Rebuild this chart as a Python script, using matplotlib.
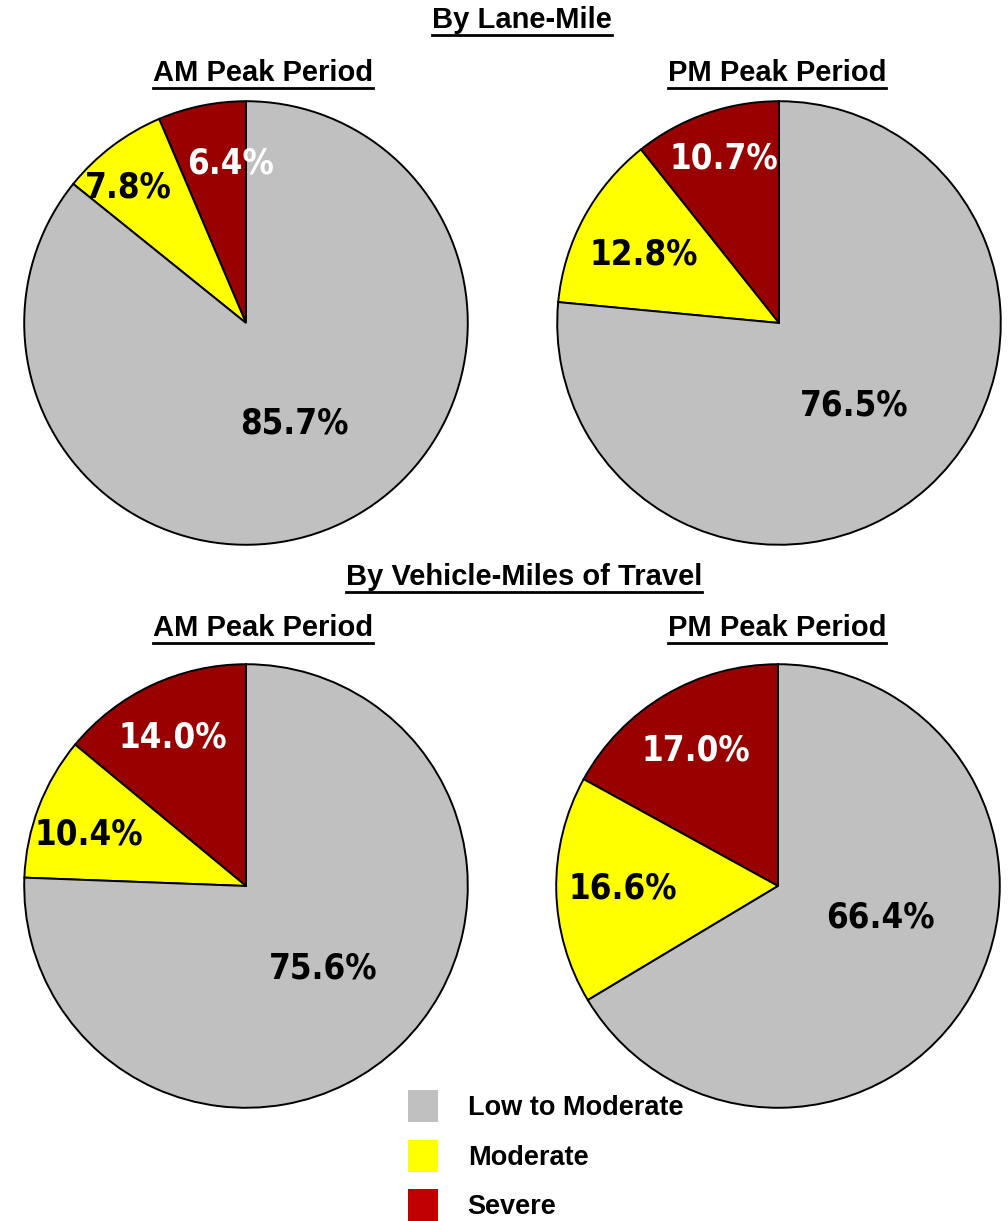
import matplotlib
matplotlib.use("Agg")
import matplotlib.pyplot as plt
from matplotlib.patches import Patch
from matplotlib.lines import Line2D

# data
categories = ["Severe", "Moderate", "Low to Moderate"]
am_lane = [6.4, 7.8, 85.7]
pm_lane = [10.7, 12.8, 76.5]
am_vmt = [14.0, 10.4, 75.6]
pm_vmt = [17.0, 16.6, 66.4]

pie_colors = ["#990000", "#FFFF00", "#C0C0C0"]
legend_colors = {"Low to Moderate": "#C0C0C0", "Moderate": "#FFFF00", "Severe": "#C00000"}
label_colors = ["white", "black", "black"]

# label offsets (radius units), same order as categories
am_lane_pos = [(-0.07, 0.72), (-0.53, 0.61), (0.22, -0.455)]
pm_lane_pos = [(-0.25, 0.74), (-0.61, 0.31), (0.34, -0.37)]
am_vmt_pos = [(-0.33, 0.67), (-0.71, 0.23), (0.35, -0.37)]
pm_vmt_pos = [(-0.37, 0.61), (-0.70, -0.01), (0.46, -0.14)]

W, H = 1008, 1221
fig = plt.figure(figsize=(W / 100, H / 100), dpi=100)
R = 224

title_font = dict(family=["Liberation Sans", "DejaVu Sans"], fontweight="bold", fontsize=21)
num_font = dict(family=["Liberation Sans Narrow", "DejaVu Sans"], fontstretch="condensed",
                fontweight="bold", fontsize=25)


def draw_pie(cx, cy, values, positions):
    ax = fig.add_axes([(cx - R) / W, (H - cy - R) / H, 2 * R / W, 2 * R / H])
    ax.pie(values, colors=pie_colors, startangle=90, counterclock=True,
           wedgeprops=dict(edgecolor="black", linewidth=1.4))
    for v, (dx, dy), c in zip(values, positions, label_colors):
        ax.text(dx, dy, f"{v:.1f}%", ha="center", va="center", color=c, **num_font)
    ax.set_xlim(-1.01, 1.01)
    ax.set_ylim(-1.01, 1.01)
    ax.set_aspect("equal")
    ax.axis("off")


draw_pie(246, 323, am_lane, am_lane_pos)
draw_pie(779, 323, pm_lane, pm_lane_pos)
draw_pie(246, 886, am_vmt, am_vmt_pos)
draw_pie(778, 886, pm_vmt, pm_vmt_pos)

titles = [("By Lane-Mile", 522, 20), ("AM Peak Period", 263, 73), ("PM Peak Period", 777, 73),
          ("By Vehicle-Miles of Travel", 524, 577), ("AM Peak Period", 263, 628),
          ("PM Peak Period", 777, 628)]
title_texts = []
for s, x, y in titles:
    t = fig.text(x / W, 1 - y / H, s, ha="center", va="center", **title_font)
    title_texts.append(t)

# underline titles
fig.canvas.draw()
renderer = fig.canvas.get_renderer()
for t in title_texts:
    bb = t.get_window_extent(renderer)
    y = (bb.y0 - 1) / H
    fig.add_artist(Line2D([bb.x0 / W, bb.x1 / W], [y, y], color="black", linewidth=2,
                          transform=fig.transFigure))

handles = [Patch(facecolor=legend_colors[c], edgecolor="none") for c in ["Low to Moderate", "Moderate", "Severe"]]
fig.legend(handles, ["Low to Moderate", "Moderate", "Severe"], loc="upper left",
           bbox_to_anchor=(400 / W, 1 - 1082 / H), frameon=False,
           prop=dict(family=["Liberation Sans", "DejaVu Sans"], weight="bold", size=19.5),
           handlelength=1.1, handleheight=1.44, handletextpad=1.1, labelspacing=0.65,
           borderaxespad=0, borderpad=0.3)

fig.savefig("out.png", dpi=100, facecolor="white")
